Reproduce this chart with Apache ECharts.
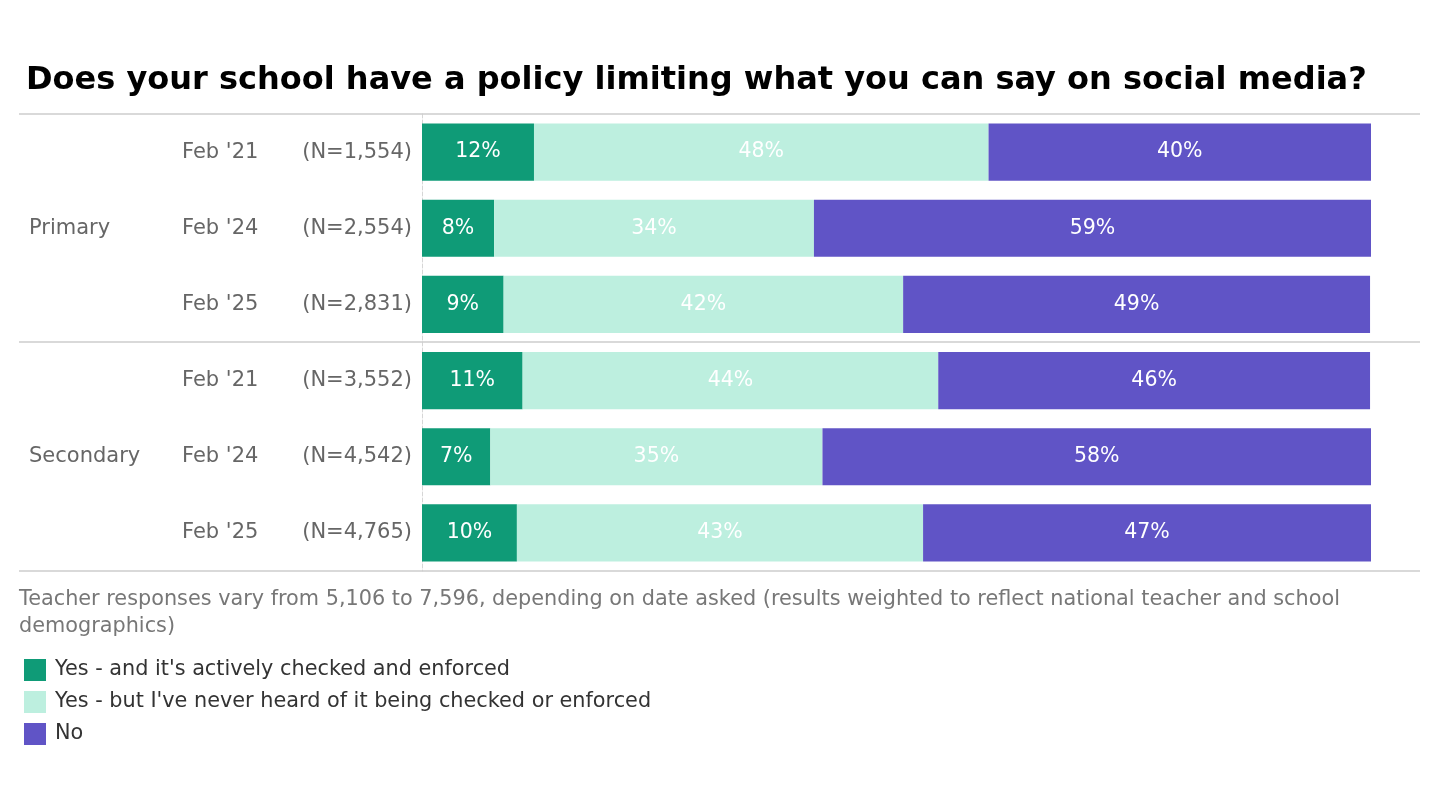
<!DOCTYPE html>
<html>
<head>
<meta charset="utf-8">
<script src="https://cdn.jsdelivr.net/npm/echarts@6/dist/echarts.min.js"></script>
<style>html,body{margin:0;padding:0;background:#fff}#c{width:1440px;height:800px}</style>
</head>
<body>
<div id="c"></div>
<script>
const groups = ['', 'Primary', '', '', 'Secondary', ''];
const dates = ["Feb '21", "Feb '24", "Feb '25", "Feb '21", "Feb '24", "Feb '25"];
const ns = ['(N=1,554)', '(N=2,554)', '(N=2,831)', '(N=3,552)', '(N=4,542)', '(N=4,765)'];
const seriesNames = ["Yes - and it's actively checked and enforced", "Yes - but I've never heard of it being checked or enforced", 'No'];
const yesEnforced = [11.8, 7.6, 8.6, 10.6, 7.2, 10.0];
const yesNever = [47.9, 33.7, 42.1, 43.8, 35.0, 42.8];
const no = [40.3, 58.7, 49.2, 45.5, 57.9, 47.2];
const colors = ['#0f9b77', '#bdefdf', '#6054c6'];
const cats = dates.map((d, i) => String(i));

const FONT = 'DejaVu Sans';
const FS = 21;
const chart = echarts.init(document.getElementById('c'));
function mk(name, data, color) {
  return {
    name, type: 'bar', stack: 'all', data, barWidth: '75%',
    itemStyle: { color },
    label: { show: true, position: 'inside', color: '#fff', fontSize: 20.5, fontFamily: FONT,
      formatter: p => Math.round(p.value) + '%' },
    emphasis: { disabled: true }
  };
}
const hl = y => ({ type: 'line', shape: { x1: 19, y1: y, x2: 1420, y2: y }, style: { stroke: '#cccccc', lineWidth: 1.5 }, z: 10 });
chart.setOption({
  animation: false,
  textStyle: { fontFamily: FONT },
  title: { text: 'Does your school have a policy limiting what you can say on social media?', left: 21, top: 60,
    textStyle: { fontSize: 32, fontWeight: 'bold', color: '#000', fontFamily: FONT } },
  grid: { left: 422, right: 69, top: 114, bottom: 229 },
  xAxis: { type: 'value', min: 0, max: 100, show: false },
  yAxis: {
    type: 'category', data: cats, inverse: true,
    axisLine: { show: true, lineStyle: { color: '#d6d6d6', type: 'dashed', width: 1 } },
    axisTick: { show: false },
    axisLabel: {
      margin: 10, fontSize: FS, color: '#666', fontFamily: FONT,
      formatter: (v) => { const i = +v; return '{g|' + (groups[i] || ' ') + '}{d|' + dates[i] + '}{n|' + ns[i] + '}'; },
      rich: {
        g: { width: 153, align: 'left', fontSize: FS, color: '#666', fontFamily: FONT },
        d: { width: 122, align: 'left', fontSize: FS, color: '#666', fontFamily: FONT },
        n: { width: 108, align: 'right', fontSize: FS, color: '#666', fontFamily: FONT }
      }
    }
  },
  legend: {
    orient: 'vertical', left: 19, top: 654, itemWidth: 22, itemHeight: 22, itemGap: 10,
    icon: 'rect', selectedMode: false,
    textStyle: { fontSize: 20.8, color: '#333', fontFamily: FONT, padding: [0, 0, 0, 4] },
    data: seriesNames
  },
  graphic: [
    hl(114), hl(342), hl(571),
    { type: 'text', left: 19, top: 586, style: {
      text: 'Teacher responses vary from 5,106 to 7,596, depending on date asked (results weighted to reflect national teacher and school\ndemographics)',
      fontSize: 20.8, fill: '#777', fontFamily: FONT, lineHeight: 27 } }
  ],
  series: [mk(seriesNames[0], yesEnforced, colors[0]), mk(seriesNames[1], yesNever, colors[1]), mk(seriesNames[2], no, colors[2])]
});
</script>
</body>
</html>
